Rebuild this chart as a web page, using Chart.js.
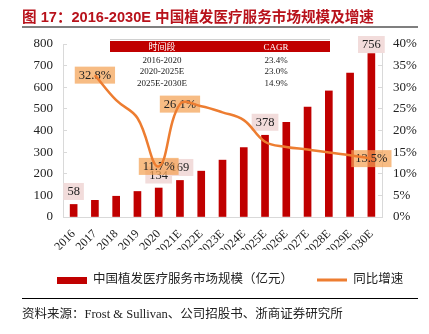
<!DOCTYPE html>
<html>
<head>
<meta charset="utf-8">
<script src="https://cdn.jsdelivr.net/npm/chart.js@4/dist/chart.umd.min.js"></script>
<style>
  html, body { margin: 0; padding: 0; background: #fff; }
  body { width: 429px; height: 334px; position: relative; overflow: hidden; }
  #c { position: absolute; left: 0; top: 0; }
  .title { position: absolute; left: 22px; top: 5px; font: bold 14.6px "Liberation Sans", "Noto Sans CJK SC", sans-serif; color: #B8121B; white-space: nowrap; }
  .rule1 { position: absolute; left: 22px; top: 26px; width: 396px; height: 2px; background: #7f7f7f; }
  .rule2 { position: absolute; left: 22px; top: 298px; width: 396px; height: 1px; background: #000; }
  .source { position: absolute; left: 22px; top: 303px; font: 12.5px "Liberation Serif", "Noto Sans CJK SC", serif; color: #222; white-space: nowrap; }
  .cagr { position: absolute; left: 110px; top: 39px; width: 220px; height: 50px; border-top: 1px solid #d0d0d0; font-family: "Liberation Serif", "Noto Sans CJK SC", serif; color: #222; }
  .cagr .hdr { position: absolute; left: 0; top: 1px; width: 220px; height: 11px; background: #C00000; }
  .cagr span { position: absolute; transform: translate(-50%, -50%); white-space: nowrap; font-size: 9px; line-height: 1; }
  .cagr .h { color: #fff; }
</style>
</head>
<body>
<canvas id="c" width="429" height="334"></canvas>
<div class="title">图 17：2016-2030E 中国植发医疗服务市场规模及增速</div>
<div class="rule1"></div>
<div class="cagr" id="cagr"><div class="hdr"></div></div>
<div class="rule2"></div>
<div class="source">资料来源：Frost &amp; Sullivan、公司招股书、浙商证券研究所</div>
<script>
// ---- data ----
const categories = ['2016','2017','2018','2019','2020','2021E','2022E','2023E','2024E','2025E','2026E','2027E','2028E','2029E','2030E'];
const marketSize = [58, 77, 96, 118, 134, 169, 212, 263, 321, 378, 438, 508, 583, 666, 756];
const growth = [null, 32.8, 27.0, 22.9, 11.7, 26.1, 25.6, 24.2, 22.4, 17.4, 16.2, 15.6, 14.9, 14.3, 13.5];
const barLabelIdx = [0, 4, 5, 9, 14];
const growthLabelIdx = [1, 4, 5, 14];
const seriesNames = ['中国植发医疗服务市场规模（亿元）', '同比增速'];
const cagrHeader = ['时间段', 'CAGR'];
const cagrPeriods = ['2016-2020', '2020-2025E', '2025E-2030E'];
const cagrValues = ['23.4%', '23.0%', '14.9%'];
const leftTicks = { min: 0, max: 800, step: 100 };
const rightTicks = { min: 0, max: 40, step: 5 };

// ---- CAGR table (HTML text) ----
(function () {
  const box = document.getElementById('cagr');
  function add(text, x, y, cls) {
    const s = document.createElement('span');
    s.textContent = text; s.style.left = x + 'px'; s.style.top = y + 'px';
    if (cls) s.className = cls;
    box.appendChild(s);
  }
  add(cagrHeader[0], 52, 6.8, 'h');
  add(cagrHeader[1], 166, 6.8, 'h');
  cagrPeriods.forEach((p, i) => {
    add(p, 52, 19.5 + i * 11.5);
    add(cagrValues[i], 166, 19.5 + i * 11.5);
  });
})();

const RED = '#C00000';
const ORANGE = '#ED7D31';
const serif = '"Liberation Serif", "Noto Sans CJK SC", serif';

// legend swatch for bar
const barSwatch = document.createElement('canvas');
barSwatch.width = 30; barSwatch.height = 7;
(function () { const g = barSwatch.getContext('2d'); g.fillStyle = RED; g.fillRect(0, 0, 30, 7); })();

const labelPlugin = {
  id: 'labels',
  afterDatasetDraw(chart, args) {
    if (args.meta.type !== 'bar') return;
    const ctx = chart.ctx;
    const area = chart.chartArea;
    ctx.save();
    ctx.font = '12.5px ' + serif;
    ctx.textAlign = 'center';
    ctx.textBaseline = 'middle';
    const barMeta = chart.getDatasetMeta(0);
    barLabelIdx.forEach(i => {
      const el = barMeta.data[i];
      const txt = String(marketSize[i]);
      const w = ctx.measureText(txt).width + 8, h = 17;
      let top = el.y - 4.5 - h;
      top = Math.max(top, area.top - 8);
      ctx.fillStyle = '#F2DCDB';
      ctx.fillRect(el.x - w / 2, top, w, h);
      ctx.fillStyle = '#222';
      ctx.fillText(txt, el.x, top + h / 2 + 0.5);
    });
    const lineMeta = chart.getDatasetMeta(1);
    growthLabelIdx.forEach(i => {
      const el = lineMeta.data[i];
      const txt = growth[i].toFixed(1) + '%';
      const w = ctx.measureText(txt).width + 8, h = 17;
      ctx.fillStyle = 'rgba(244,162,84,0.72)';
      ctx.fillRect(el.x - w / 2, el.y - h / 2, w, h);
      ctx.fillStyle = '#222';
      ctx.fillText(txt, el.x, el.y + 0.5);
    });
    ctx.restore();
  }
};

new Chart(document.getElementById('c'), {
  type: 'bar',
  data: {
    labels: categories,
    datasets: [
      { type: 'bar', label: seriesNames[0], data: marketSize, backgroundColor: RED, barThickness: 7, yAxisID: 'y', order: 1 },
      { type: 'line', label: seriesNames[1], data: growth, borderColor: ORANGE, backgroundColor: ORANGE, borderWidth: 2.5, pointRadius: 0, tension: 0.4, yAxisID: 'y1', order: 0 }
    ]
  },
  options: {
    responsive: false,
    devicePixelRatio: 1,
    animation: false,
    layout: { padding: { left: 31, right: 0, top: 44, bottom: 37.75 } },
    plugins: {
      tooltip: { enabled: false },
      legend: {
        position: 'bottom',
        labels: {
          usePointStyle: true,
          pointStyleWidth: 30,
          padding: 24,
          color: '#222',
          font: { family: serif, size: 12.5 },
          generateLabels(chart) {
            const items = Chart.defaults.plugins.legend.labels.generateLabels(chart);
            items.sort((a, b) => a.datasetIndex - b.datasetIndex);
            items.forEach(it => {
              if (it.datasetIndex === 0) { it.pointStyle = barSwatch; it.lineWidth = 0; }
              else { it.pointStyle = 'line'; it.lineWidth = 3; it.strokeStyle = ORANGE; }
            });
            return items;
          }
        }
      }
    },
    scales: {
      x: {
        offset: true,
        grid: { display: false },
        border: { display: true, color: '#d9d9d9', width: 1 },
        ticks: { color: '#222', font: { family: serif, size: 12 }, minRotation: 45, maxRotation: 45, autoSkip: false, padding: 2 },
        afterFit(s) { s.height = 32.75; }
      },
      y: {
        position: 'left',
        min: leftTicks.min, max: leftTicks.max,
        ticks: { stepSize: leftTicks.step, color: '#222', font: { family: serif, size: 13 }, padding: 14 },
        grid: { drawOnChartArea: false, color: '#d9d9d9', tickLength: -4 },
        border: { display: true, color: '#d9d9d9', width: 1 },
        afterFit(s) { s.width = 32; }
      },
      y1: {
        position: 'right',
        min: rightTicks.min, max: rightTicks.max,
        ticks: { stepSize: rightTicks.step, color: '#222', font: { family: serif, size: 13 }, padding: 15, callback: v => v + '%' },
        grid: { drawOnChartArea: false, color: '#d9d9d9', tickLength: -4 },
        border: { display: true, color: '#d9d9d9', width: 1 },
        afterFit(s) { s.width = 47; }
      }
    }
  },
  plugins: [labelPlugin]
});
</script>
</body>
</html>
